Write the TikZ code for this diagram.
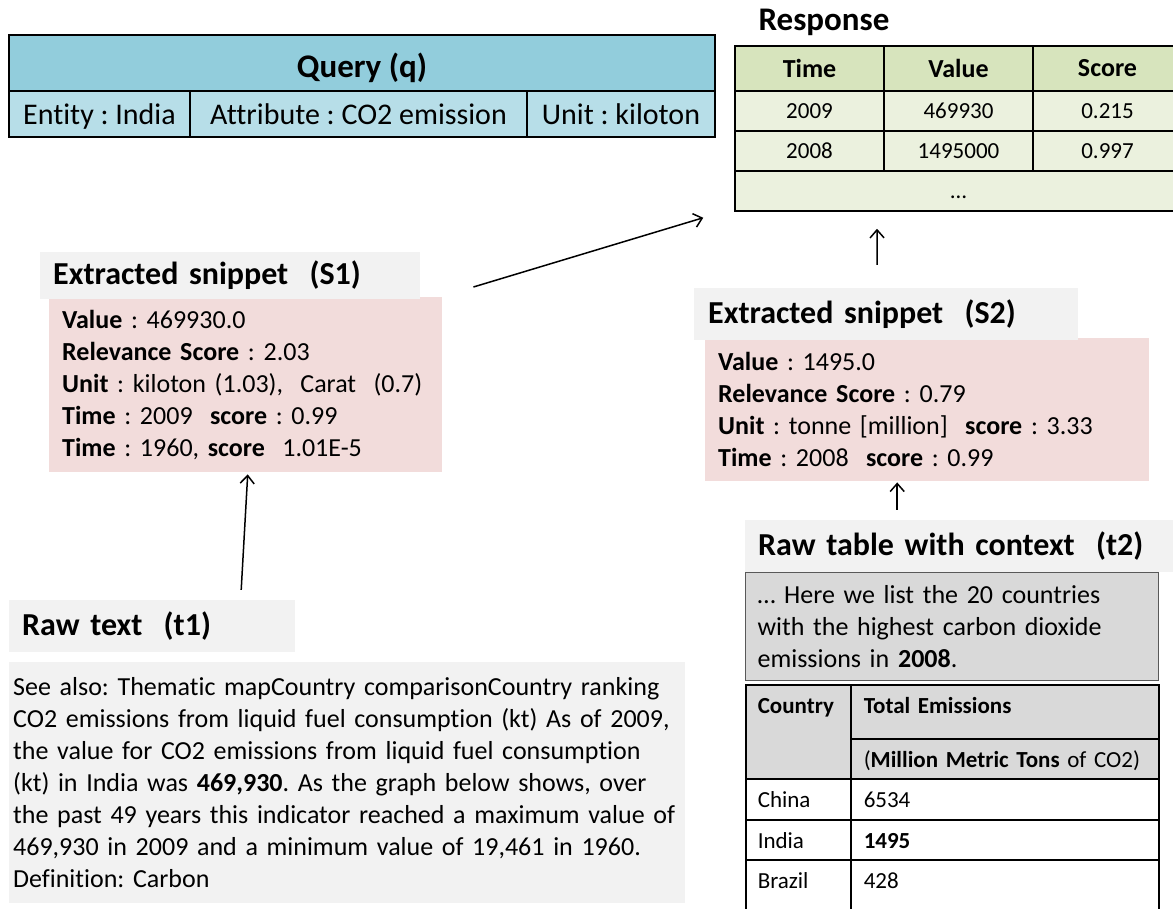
\documentclass[tikz,border=0pt]{standalone}
\usepackage{fontspec}
\setmainfont{Carlito}[Ligatures=CommonOff]
\usepackage{tikz}
\usetikzlibrary{arrows.meta}
\definecolor{qhead}{RGB}{146,205,220}
\definecolor{qrow}{RGB}{183,222,232}
\definecolor{resphead}{RGB}{215,228,189}
\definecolor{respbody}{RGB}{235,241,222}
\definecolor{snippink}{RGB}{242,220,219}
\definecolor{boxgray}{RGB}{242,242,242}
\definecolor{ctxgray}{RGB}{217,217,217}
\AtBeginDocument{\frenchspacing\hyphenpenalty=10000}

\tikzset{
  titlebox/.style={fill=boxgray, anchor=west, align=left, inner xsep=13pt,
    font=\fontsize{32}{39}\selectfont\bfseries},
  snippet/.style={fill=snippink, anchor=north west, align=left, inner xsep=13pt,
    font=\fontsize{26}{32}\selectfont},
  qcell/.style={draw, line width=1.2pt, fill=qrow, minimum height=46pt, inner sep=0pt,
    text height=24pt, text depth=4pt, font=\fontsize{30}{36}\selectfont},
  rcell/.style={draw, line width=1.5pt, fill=respbody, minimum width=149pt,
    minimum height=40pt, inner sep=0pt, font=\fontsize{23}{28}\selectfont},
  tcell/.style={draw, line width=1.5pt, anchor=north west, align=left, inner ysep=0pt,
    text height=29pt, font=\fontsize{23}{28}\selectfont},
  flow/.style={line width=1.5pt, -{Straight Barb[length=8pt,width=14pt]}}
}

\begin{document}
\begin{tikzpicture}[x=1pt, y=-1pt]
  \useasboundingbox (0,0) rectangle (1173,908);
  \clip (0,0) rectangle (1173,908);

  % query
  \node[qcell, fill=qhead, minimum width=706pt, minimum height=56pt, text height=30pt,
    text depth=2pt, font=\fontsize{33}{40}\selectfont\bfseries] (query) at (362,63) {Query (q)};
  \node[qcell, minimum width=181pt] (entity) at (99.5,114) {Entity : India};
  \node[qcell, minimum width=337pt] (attr) at (358.5,114) {Attribute : CO2 emission};
  \node[qcell, minimum width=188pt] (unit) at (621,114) {Unit : kiloton};

  % response
  \node[font=\fontsize{33}{40}\selectfont\bfseries] (resplabel) at (824,22) {Response};
  \node[rcell, fill=resphead, minimum height=45pt,
    font=\fontsize{26}{31}\selectfont\bfseries] (rtime) at (809.5,68.5) {Time};
  \node[rcell, fill=resphead, minimum height=45pt,
    font=\fontsize{26}{31}\selectfont\bfseries] (rvalue) at (958.5,68.5) {Value};
  \node[rcell, fill=resphead, minimum height=45pt,
    font=\fontsize{26}{31}\selectfont\bfseries] (rscore) at (1107.5,68.5) {Score};
  \node[rcell] (r1time) at (809.5,111) {2009};
  \node[rcell] (r1value) at (958.5,111) {469930};
  \node[rcell] (r1score) at (1107.5,111) {0.215};
  \node[rcell] (r2time) at (809.5,151) {2008};
  \node[rcell] (r2value) at (958.5,151) {1495000};
  \node[rcell] (r2score) at (1107.5,151) {0.997};
  \node[rcell, minimum width=447pt, text height=27pt, text depth=13pt] (rdots)
    at (958.5,191) {\ldots};

  % snippet S1
  \node[snippet, text width=367pt, minimum height=175pt] (s1body) at (49,297)
    {\textbf{Value} : 469930.0\\
     \textbf{Relevance Score} : 2.03\\
     \textbf{Unit} : kiloton (1.03),\ \ Carat\ \ (0.7)\\
     \textbf{Time} : 2009\ \ \textbf{score} : 0.99\\
     \textbf{Time} : 1960, \textbf{score}\ \ 1.01E-5};
  \node[titlebox, text width=354pt, minimum height=47pt] (s1head) at (40,275.5)
    {Extracted snippet\ \ (S1)};

  % snippet S2
  \node[snippet, text width=418pt, minimum height=143pt] (s2body) at (705,338)
    {\textbf{Value} : 1495.0\\
     \textbf{Relevance Score} : 0.79\\
     \textbf{Unit} : tonne [million]\ \ \textbf{score} : 3.33\\
     \textbf{Time} : 2008\ \ \textbf{score} : 0.99};
  \node[titlebox, text width=356pt, inner xsep=14pt, minimum height=52pt] (s2head)
    at (694,314) {Extracted snippet\ \ (S2)};

  % raw table t2
  \node[titlebox, text width=402pt, minimum height=52pt] (t2head) at (745,546)
    {Raw table with context\ \ (t2)};
  \node[draw=black!65, line width=1.2pt, fill=ctxgray, anchor=north west, align=left,
    text width=389pt, inner xsep=12pt, minimum height=108pt,
    font=\fontsize{26}{32}\selectfont] (t2ctx) at (745,572)
    {\ldots{} Here we list the 20 countries\\
     with the highest carbon dioxide\\
     emissions in \textbf{2008}.};
  \node[tcell, fill=ctxgray, text width=81pt, inner xsep=12pt, text depth=65pt,
    font=\fontsize{23}{28}\selectfont\bfseries] (country) at (745,684) {Country};
  \node[tcell, fill=ctxgray, text width=282pt, inner xsep=13pt, text depth=25pt,
    font=\fontsize{23}{28}\selectfont\bfseries] (total) at (850,684) {Total Emissions};
  \node[tcell, fill=ctxgray, text width=282pt, inner xsep=13pt, text depth=11pt]
    (mmt) at (850,738) {(\textbf{Million Metric Tons} of CO2)};
  \node[tcell, text width=81pt, inner xsep=12pt, text depth=12pt] (china) at (745,778) {China};
  \node[tcell, text width=282pt, inner xsep=13pt, text depth=12pt] (chinav) at (850,778) {6534};
  \node[tcell, text width=81pt, inner xsep=12pt, text depth=11pt] (india) at (745,819) {India};
  \node[tcell, text width=282pt, inner xsep=13pt, text depth=11pt] (indiav) at (850,819) {\textbf{1495}};
  \node[tcell, text width=81pt, inner xsep=12pt, text depth=27pt] (brazil) at (745,859) {Brazil};
  \node[tcell, text width=282pt, inner xsep=13pt, text depth=27pt] (brazilv) at (850,859) {428};

  % raw text t1
  \node[titlebox, text width=260pt, minimum height=52pt] (t1head) at (9,626)
    {Raw text\ \ (t1)};
  \node[fill=boxgray, anchor=north west, align=left, text width=668pt, inner xsep=4pt,
    minimum height=241pt, font=\fontsize{26}{32}\selectfont] (t1body) at (9,662)
    {See also: Thematic mapCountry comparisonCountry ranking\\
     CO2 emissions from liquid fuel consumption (kt) As of 2009,\\
     the value for CO2 emissions from liquid fuel consumption\\
     (kt) in India was \textbf{469,930}. As the graph below shows, over\\
     the past 49 years this indicator reached a maximum value of\\
     469,930 in 2009 and a minimum value of 19,461 in 1960.\\
     Definition: Carbon};

  % arrows
  \draw[flow] ([xshift=89pt,yshift=10pt]t1head.north) -- ([xshift=2pt,yshift=-2pt]s1body.south);
  \draw[flow] ([xshift=-62pt,yshift=10pt]t2head.north) -- ([xshift=-30pt,yshift=-1pt]s2body.south);
  \draw[flow] ([xshift=-9pt,yshift=23pt]s2head.north) -- ([xshift=-81.5pt,yshift=-17pt]rdots.south);
  \draw[flow] ([xshift=31pt,yshift=10pt]s1body.north east) -- ([xshift=-31pt,yshift=-6pt]rdots.south west);
\end{tikzpicture}
\end{document}
